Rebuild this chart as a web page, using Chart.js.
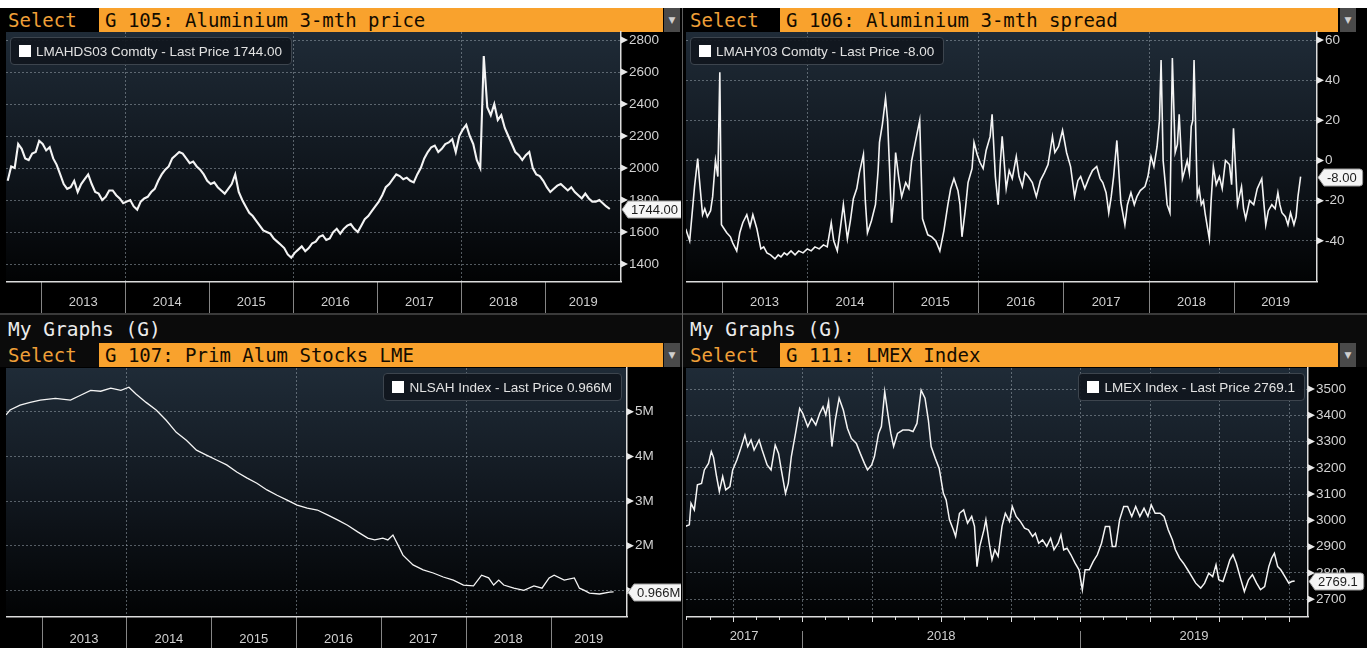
<!DOCTYPE html>
<html><head><meta charset="utf-8"><title>Aluminium dashboard</title>
<script src="https://cdn.jsdelivr.net/npm/chart.js@4.4.1/dist/chart.umd.min.js"></script>
<style>
*{box-sizing:border-box}
html,body{margin:0;padding:0;width:1367px;height:648px;background:#000;overflow:hidden}
#root{position:relative;width:1367px;height:648px;background:#000}
.a{position:absolute}
.sel{font-family:"DejaVu Sans Mono",monospace;font-size:19px;color:#f0a038;line-height:24px;height:24px}
.bar{height:24px;background:#f9a22d;color:#140c00;font-family:"DejaVu Sans Mono",monospace;font-size:19px;line-height:24px;padding-left:6px;white-space:nowrap}
.dd{height:24px;background:#4a4a4a;color:#cfcfcf;font-size:9px;line-height:24px;text-align:center;font-family:"DejaVu Sans",sans-serif}
.my{font-family:"DejaVu Sans Mono",monospace;font-size:19.5px;color:#ececec;line-height:24px}
.leg{height:28px;line-height:27px;padding:0 9px 0 8px;background:rgba(16,22,29,0.92);border:1px solid #3d454e;border-radius:4px;color:#e2e2e2;font-family:"Liberation Sans",Arial,sans-serif;font-size:13.5px;white-space:nowrap}
.sq{display:inline-block;width:12px;height:12px;background:#fff;margin-right:5px;vertical-align:-1px}
canvas{position:absolute;display:block}
</style></head>
<body><div id="root">
<div class="a" style="left:0;top:0;width:1367px;height:8px;background:#fff"></div>
<div class="a" style="left:0;top:313px;width:1367px;height:54px;background:#0b0b0b"></div>
<div class="a" style="left:0;top:313px;width:1367px;height:2px;background:#3a3a3a"></div>

<div class="a sel" style="left:8px;top:8px">Select</div>
<div class="a bar" style="left:99px;top:8px;width:564px">G 105: Aluminium 3-mth price</div>
<div class="a dd" style="left:664px;top:8px;width:16px">&#9660;</div>
<div class="a sel" style="left:690px;top:8px">Select</div>
<div class="a bar" style="left:780px;top:8px;width:558px">G 106: Aluminium 3-mth spread</div>
<div class="a dd" style="left:1340px;top:8px;width:16px">&#9660;</div>

<div class="a my" style="left:8px;top:318px">My Graphs (G)</div>
<div class="a sel" style="left:8px;top:343px">Select</div>
<div class="a bar" style="left:99px;top:343px;width:564px">G 107: Prim Alum Stocks LME</div>
<div class="a dd" style="left:664px;top:343px;width:16px">&#9660;</div>
<div class="a my" style="left:690px;top:318px">My Graphs (G)</div>
<div class="a sel" style="left:690px;top:343px">Select</div>
<div class="a bar" style="left:780px;top:343px;width:558px">G 111: LMEX Index</div>
<div class="a dd" style="left:1340px;top:343px;width:16px">&#9660;</div>

<canvas id="c1" width="681" height="282" style="left:0;top:31px"></canvas>
<canvas id="c2" width="683" height="282" style="left:684px;top:31px"></canvas>
<canvas id="c3" width="681" height="281" style="left:0;top:367px"></canvas>
<canvas id="c4" width="683" height="281" style="left:684px;top:367px"></canvas>

<div class="a" style="left:682px;top:8px;width:1px;height:640px;background:#5e5e5e"></div>

<div class="a leg" style="left:10px;top:37px"><span class="sq"></span>LMAHDS03 Comdty - Last Price 1744.00</div>
<div class="a leg" style="left:690px;top:37px"><span class="sq"></span>LMAHY03 Comdty - Last Price -8.00</div>
<div class="a leg" style="right:745px;top:373px"><span class="sq"></span>NLSAH Index - Last Price 0.966M</div>
<div class="a leg" style="right:62px;top:373px"><span class="sq"></span>LMEX Index - Last Price 2769.1</div>
</div>
<script>
// ---------- DATA ----------
// G 105: Aluminium 3-mth price (USD/t), semi-monthly readings from Aug 2012
const priceStart = 2012.6;
const priceStep = 1 / 24;
const priceValues = [
1920, 2010, 2000, 2150, 2120, 2060, 2050, 2090, 2100, 2170, 2150, 2110,
2130, 2060, 2020, 1960, 1900, 1870, 1880, 1920, 1850, 1900, 1930, 1960,
1900, 1850, 1840, 1800, 1820, 1860, 1860, 1830, 1810, 1780, 1790, 1800,
1760, 1740, 1790, 1810, 1820, 1850, 1870, 1920, 1960, 1990, 2010, 2060,
2080, 2100, 2090, 2060, 2030, 2040, 2010, 1990, 1960, 1920, 1900, 1910,
1880, 1860, 1840, 1870, 1900, 1960, 1850, 1800, 1760, 1720, 1700, 1670,
1640, 1610, 1600, 1590, 1560, 1540, 1520, 1500, 1460, 1440, 1470, 1490,
1510, 1480, 1500, 1530, 1540, 1570, 1580, 1550, 1560, 1600, 1620, 1590,
1620, 1640, 1650, 1620, 1600, 1640, 1680, 1700, 1730, 1760, 1790, 1830,
1880, 1900, 1930, 1960, 1950, 1930, 1940, 1920, 1910, 1960, 2000, 2060,
2100, 2130, 2140, 2100, 2120, 2150, 2160, 2180, 2100, 2200, 2240, 2270,
2200, 2150, 2050, 2000, 2700, 2380, 2330, 2400, 2300, 2330, 2250, 2200,
2150, 2100, 2080, 2050, 2080, 2100, 2000, 1960, 1950, 1920, 1880, 1850,
1870, 1890, 1900, 1880, 1860, 1880, 1850, 1830, 1810, 1840, 1810, 1790,
1790, 1800, 1780, 1760, 1744
];
const priceTicks = [1400, 1600, 1800, 2000, 2200, 2400, 2600, 2800];

// G 106: Aluminium 3-mth spread
const spreadTimes = [
2012.576, 2012.623, 2012.680, 2012.717, 2012.736, 2012.774, 2012.800, 2012.830, 2012.868, 2012.892,
2012.925, 2012.953, 2012.976, 2012.995, 2013.057, 2013.100, 2013.127, 2013.174, 2013.210, 2013.245,
2013.292, 2013.330, 2013.363, 2013.410, 2013.457, 2013.490, 2013.528, 2013.570, 2013.622, 2013.660,
2013.692, 2013.730, 2013.763, 2013.810, 2013.857, 2013.900, 2013.951, 2014.000, 2014.046, 2014.090,
2014.140, 2014.190, 2014.234, 2014.281, 2014.310, 2014.352, 2014.390, 2014.423, 2014.470, 2014.505,
2014.540, 2014.580, 2014.611, 2014.658, 2014.680, 2014.705, 2014.752, 2014.799, 2014.830, 2014.846,
2014.880, 2014.917, 2014.941, 2014.964, 2014.988, 2015.010, 2015.035, 2015.070, 2015.106, 2015.153,
2015.190, 2015.223, 2015.270, 2015.317, 2015.350, 2015.380, 2015.412, 2015.459, 2015.506, 2015.553,
2015.600, 2015.647, 2015.680, 2015.718, 2015.765, 2015.789, 2015.812, 2015.850, 2015.883, 2015.930,
2015.953, 2015.990, 2016.024, 2016.060, 2016.095, 2016.142, 2016.165, 2016.203, 2016.236, 2016.260,
2016.283, 2016.330, 2016.365, 2016.401, 2016.448, 2016.480, 2016.519, 2016.550, 2016.589, 2016.636,
2016.683, 2016.730, 2016.778, 2016.820, 2016.872, 2016.900, 2016.943, 2016.990, 2017.037, 2017.084,
2017.131, 2017.170, 2017.202, 2017.250, 2017.296, 2017.340, 2017.390, 2017.430, 2017.461, 2017.500,
2017.531, 2017.560, 2017.588, 2017.626, 2017.650, 2017.673, 2017.720, 2017.750, 2017.791, 2017.830,
2017.861, 2017.900, 2017.955, 2017.990, 2018.026, 2018.060, 2018.097, 2018.125, 2018.144, 2018.168,
2018.190, 2018.215, 2018.248, 2018.276, 2018.309, 2018.335, 2018.356, 2018.394, 2018.420, 2018.450,
2018.475, 2018.497, 2018.515, 2018.530, 2018.568, 2018.590, 2018.615, 2018.640, 2018.662, 2018.709,
2018.730, 2018.756, 2018.790, 2018.827, 2018.860, 2018.898, 2018.945, 2018.970, 2018.992, 2019.039,
2019.060, 2019.086, 2019.110, 2019.135, 2019.180, 2019.229, 2019.270, 2019.323, 2019.345, 2019.370,
2019.400, 2019.441, 2019.480, 2019.512, 2019.535, 2019.559, 2019.600, 2019.630, 2019.660, 2019.700,
2019.725, 2019.747, 2019.778
];
const spreadValues = [
-34, -40, -13, 1, -9, -27, -24, -28, -25, -18,
0, -8, 44, -32, -36, -38, -41, -45, -36, -31,
-27, -33, -27, -34, -44, -43, -46, -47, -49, -47,
-48, -46, -47, -45, -47, -45, -46, -44, -45, -43,
-44, -42, -43, -31, -40, -45, -33, -22, -39, -30,
-19, -14, -6, 3, -20, -36, -30, -22, -5, 9,
18, 31, 20, -4, -31, -20, 4, -8, -18, -11,
-14, 0, 10, 20, -29, -33, -37, -38, -40, -45,
-35, -22, -14, -9, -15, -22, -38, -25, -11, -4,
9, 3, -1, -4, 5, 12, 23, -8, -22, -2,
12, -14, -5, -9, 2, -8, -13, -6, -8, -11,
-18, -10, -6, -2, 12, 4, 7, 15, 4, -3,
-18, -10, -8, -14, -9, -5, -3, -9, -11, -16,
-26, -18, -8, 10, -6, -21, -32, -22, -16, -22,
-18, -15, -13, -8, 2, -3, 7, 20, 50, 0,
-10, -22, -26, 51, 4, 8, 23, -9, -5, 0,
-6, 17, 20, 50, -18, -14, -22, -20, -27, -39,
-20, -3, -12, -8, -14, 0, -2, -12, 16, -22,
-18, -13, -24, -29, -20, -22, -14, -9, -20, -32,
-25, -22, -24, -16, -22, -26, -28, -32, -26, -32,
-28, -18, -8
];
const spreadTicks = [-40, -20, 0, 20, 40, 60];

// G 107: Primary aluminium stocks LME (million t)
const stockTimes = [
2012.580, 2012.628, 2012.746, 2012.865, 2012.984, 2013.162, 2013.340, 2013.459, 2013.578, 2013.696,
2013.815, 2013.934, 2014.029, 2014.112, 2014.231, 2014.350, 2014.468, 2014.587, 2014.706, 2014.825,
2014.943, 2015.062, 2015.181, 2015.300, 2015.418, 2015.537, 2015.656, 2015.775, 2015.894, 2016.012,
2016.131, 2016.250, 2016.369, 2016.487, 2016.606, 2016.725, 2016.844, 2016.927, 2017.022, 2017.081,
2017.141, 2017.200, 2017.259, 2017.378, 2017.497, 2017.616, 2017.734, 2017.853, 2017.972, 2018.091,
2018.186, 2018.269, 2018.328, 2018.388, 2018.447, 2018.566, 2018.685, 2018.803, 2018.898, 2018.982,
2019.041, 2019.160, 2019.279, 2019.339, 2019.397, 2019.457, 2019.576, 2019.695, 2019.742
];
const stockValues = [
4.93, 5.04, 5.15, 5.21, 5.26, 5.30, 5.26, 5.37, 5.48, 5.46,
5.53, 5.48, 5.55, 5.40, 5.21, 5.04, 4.81, 4.54, 4.36, 4.14,
4.03, 3.92, 3.81, 3.65, 3.52, 3.40, 3.25, 3.13, 3.02, 2.91,
2.84, 2.80, 2.69, 2.58, 2.46, 2.31, 2.17, 2.13, 2.17, 2.13,
2.24, 2.02, 1.79, 1.57, 1.46, 1.39, 1.30, 1.23, 1.12, 1.10,
1.34, 1.28, 1.12, 1.23, 1.12, 1.05, 1.00, 1.10, 1.05, 1.28,
1.34, 1.23, 1.28, 1.05, 1.00, 0.94, 0.92, 0.96, 0.966
];
const stockTicks = [1, 2, 3, 4, 5];

// G 111: LMEX Index
const lmexTimes = [
2017.579, 2017.594, 2017.600, 2017.612, 2017.623, 2017.638, 2017.648, 2017.663, 2017.673, 2017.681,
2017.692, 2017.702, 2017.714, 2017.725, 2017.740, 2017.750, 2017.765, 2017.779, 2017.794, 2017.804,
2017.816, 2017.827, 2017.845, 2017.856, 2017.874, 2017.888, 2017.903, 2017.915, 2017.925, 2017.940,
2017.950, 2017.961, 2017.976, 2017.991, 2018.002, 2018.020, 2018.034, 2018.049, 2018.063, 2018.075,
2018.085, 2018.095, 2018.107, 2018.119, 2018.133, 2018.148, 2018.163, 2018.177, 2018.195, 2018.209,
2018.224, 2018.235, 2018.250, 2018.260, 2018.275, 2018.285, 2018.297, 2018.308, 2018.319, 2018.329,
2018.343, 2018.362, 2018.384, 2018.399, 2018.413, 2018.428, 2018.442, 2018.454, 2018.464, 2018.479,
2018.493, 2018.508, 2018.518, 2018.530, 2018.544, 2018.552, 2018.566, 2018.581, 2018.595, 2018.610,
2018.620, 2018.629, 2018.639, 2018.654, 2018.661, 2018.673, 2018.683, 2018.693, 2018.705, 2018.719,
2018.731, 2018.746, 2018.756, 2018.770, 2018.785, 2018.800, 2018.814, 2018.829, 2018.839, 2018.851,
2018.865, 2018.880, 2018.894, 2018.906, 2018.921, 2018.931, 2018.941, 2018.953, 2018.967, 2018.982,
2018.996, 2019.008, 2019.018, 2019.033, 2019.047, 2019.062, 2019.077, 2019.091, 2019.106, 2019.116,
2019.128, 2019.142, 2019.157, 2019.171, 2019.186, 2019.200, 2019.215, 2019.230, 2019.244, 2019.256,
2019.270, 2019.288, 2019.302, 2019.317, 2019.332, 2019.343, 2019.358, 2019.372, 2019.387, 2019.402,
2019.416, 2019.434, 2019.448, 2019.463, 2019.477, 2019.489, 2019.499, 2019.514, 2019.528, 2019.539,
2019.550, 2019.562, 2019.577, 2019.591, 2019.606, 2019.620, 2019.635, 2019.649, 2019.664, 2019.679,
2019.689, 2019.699, 2019.711, 2019.722, 2019.737, 2019.751, 2019.761, 2019.772
];
const lmexValues = [
2977, 2983, 3065, 3040, 3135, 3141, 3192, 3217, 3262, 3240,
3167, 3110, 3167, 3116, 3129, 3192, 3230, 3274, 3325, 3281,
3306, 3268, 3306, 3268, 3211, 3192, 3287, 3255, 3192, 3103,
3141, 3243, 3331, 3426, 3407, 3357, 3388, 3363, 3407, 3433,
3401, 3452, 3281, 3382, 3465, 3420, 3350, 3312, 3293, 3255,
3217, 3192, 3211, 3243, 3331, 3357, 3490, 3407, 3331, 3281,
3331, 3344, 3344, 3338, 3369, 3496, 3465, 3382, 3281, 3236,
3198, 3103, 3078, 3002, 2964, 2939, 3027, 3040, 2989, 3015,
2977, 2824, 2901, 2964, 3002, 2913, 2850, 2888, 2863, 2977,
3027, 2996, 3053, 3015, 2996, 2970, 2964, 2939, 2951, 2913,
2926, 2901, 2932, 2888, 2913, 2945, 2888, 2894, 2869, 2837,
2812, 2736, 2812, 2812, 2843, 2869, 2913, 2977, 2977, 2901,
2901, 3002, 3053, 3053, 3015, 3053, 3015, 3046, 3015, 3059,
3027, 3027, 3015, 2964, 2926, 2888, 2856, 2837, 2812, 2786,
2761, 2742, 2761, 2799, 2786, 2831, 2774, 2767, 2812, 2850,
2869, 2837, 2780, 2729, 2774, 2793, 2761, 2736, 2748, 2824,
2856, 2875, 2824, 2812, 2786, 2761, 2767, 2769.1
];
const lmexTicks = [2700, 2800, 2900, 3000, 3100, 3200, 3300, 3400, 3500];

const longYears = ['2013', '2014', '2015', '2016', '2017', '2018', '2019'];
const lmexYears = ['2017', '2018', '2019'];
const longGrid = [2014, 2016, 2018];
const lmexGrid = [2017.75, 2018, 2018.25, 2018.5, 2018.75, 2019, 2019.25, 2019.5, 2019.75];

// ---------- DRAWING ----------
const FONT = '"Liberation Sans", Arial, Helvetica, sans-serif';
Chart.defaults.font.family = FONT;
const GRID = 'rgba(150,160,170,0.55)';
const NONE = 'rgba(0,0,0,0)';
const AXIS = '#dcdcdc';
const SEP = '#858585';

function yearTicks(min, max, labels) {
  const t = [];
  labels.forEach(l => {
    const y = +l, a = Math.max(y, min), b = Math.min(y + 1, max);
    t.push({value: (a + b) / 2, yr: l});
  });
  return t;
}

function yScaleCfg(o) {
  return {
    type: 'linear', position: 'right', min: o.yMin, max: o.yMax,
    afterBuildTicks(s) {
      const m = o.yMajors, step = m[1] - m[0], out = [];
      m.forEach(v => { out.push({value: v, major: true}); out.push({value: +(v + step / 2).toFixed(6), major: false}); });
      out.push({value: +(m[0] - step / 2).toFixed(6), major: false});
      s.ticks = out.filter(t => t.value >= o.yMin && t.value <= o.yMax).sort((a, b) => a.value - b.value);
    },
    ticks: {autoSkip: false, padding: 3, color: '#d2d2d2', font: {size: 13.5},
      callback: (v, i, t) => (t[i] && t[i].major) ? o.fmt(v) : null},
    grid: {drawOnChartArea: true, drawTicks: true, tickLength: 5, lineWidth: 1, tickWidth: 1,
      color: c => (c.tick && c.tick.major) ? GRID : NONE, tickColor: AXIS},
    border: {display: true, color: AXIS, width: 1.5, dash: [2, 2]},
    afterFit(s) { s.width = o.yWidth; s.paddingTop = 0; s.paddingBottom = 0; }
  };
}

function xScaleCfg(o) {
  return {
    type: 'linear', position: 'bottom', min: o.xMin, max: o.xMax,
    afterBuildTicks(s) { s.ticks = yearTicks(o.xMin, o.xMax, o.years); },
    ticks: {autoSkip: false, maxRotation: 0, minRotation: 0, padding: o.labelPad, color: '#cfcfcf', font: {size: 13},
      callback: (v, i, t) => (t[i] && t[i].yr) ? t[i].yr : null},
    grid: {display: false, drawTicks: false, drawOnChartArea: false},
    border: {display: false},
    afterFit(s) { s.height = 32; s.paddingLeft = 0; s.paddingRight = 0; }
  };
}

function bgPlugin() {
  return {id: 'bgfill', beforeDraw(chart) {
    const {ctx, chartArea: a} = chart;
    const g = ctx.createLinearGradient(0, a.top, 0, a.bottom);
    g.addColorStop(0, '#1f2b37');
    g.addColorStop(0.55, '#10161d');
    g.addColorStop(1, '#020304');
    ctx.save(); ctx.fillStyle = g;
    ctx.fillRect(a.left, a.top, a.right - a.left, a.bottom - a.top);
    ctx.restore();
  }};
}

function xDecorPlugin(o) {
  return {
    id: 'xdecor',
    beforeDatasetsDraw(chart) {
      const xs = chart.scales.x, a = chart.chartArea, ctx = chart.ctx;
      ctx.save(); ctx.strokeStyle = GRID; ctx.lineWidth = 1; ctx.setLineDash([2, 2]);
      o.gridVals.forEach(v => {
        const px = Math.round(xs.getPixelForValue(v)) + 0.5;
        if (px < a.left || px > a.right) return;
        ctx.beginPath(); ctx.moveTo(px, a.top); ctx.lineTo(px, a.bottom); ctx.stroke();
      });
      ctx.restore();
    },
    afterDraw(chart) {
      const xs = chart.scales.x, a = chart.chartArea, ctx = chart.ctx;
      ctx.save();
      ctx.lineWidth = 1; ctx.strokeStyle = SEP;
      for (let y = Math.ceil(o.xMin); y <= o.xMax; y++) {
        const px = Math.round(xs.getPixelForValue(y)) + 0.5;
        ctx.beginPath(); ctx.moveTo(px, a.bottom + o.sepStart); ctx.lineTo(px, chart.height); ctx.stroke();
      }
      if (o.monthly) {
        ctx.strokeStyle = AXIS;
        for (let y = Math.floor(o.xMin); y <= Math.ceil(o.xMax); y++) {
          for (let m = 0; m < 12; m++) {
            const v = y + m / 12;
            if (v < o.xMin || v > o.xMax) continue;
            const px = Math.round(xs.getPixelForValue(v)) + 0.5;
            ctx.beginPath(); ctx.moveTo(px, a.bottom); ctx.lineTo(px, a.bottom + (m % 3 === 0 ? 6 : 4)); ctx.stroke();
          }
        }
      }
      ctx.strokeStyle = AXIS; ctx.lineWidth = 1.5;
      ctx.beginPath(); ctx.moveTo(a.left, a.bottom + 0.75); ctx.lineTo(a.right + 1, a.bottom + 0.75); ctx.stroke();
      ctx.restore();
    }
  };
}

function yDecorPlugin(o) {
  return {id: 'ydecor', afterDraw(chart) {
    const ys = chart.scales.y, ctx = chart.ctx;
    ctx.save();
    ctx.fillStyle = '#e8e8e8';
    o.yMajors.forEach(v => {
      const py = ys.getPixelForValue(v);
      if (py < ys.top - 0.5 || py > ys.bottom + 0.5) return;
      ctx.beginPath(); ctx.moveTo(ys.left, py - 3.5); ctx.lineTo(ys.left + 7, py); ctx.lineTo(ys.left, py + 3.5);
      ctx.closePath(); ctx.fill();
    });
    const last = o.values[o.values.length - 1];
    const py = Math.round(ys.getPixelForValue(last)) + 0.5;
    ctx.font = '13px ' + FONT;
    const w = ctx.measureText(o.lastText).width + 9;
    const x0 = ys.left + 1, h = 17, r = 3;
    ctx.beginPath();
    ctx.moveTo(x0, py);
    ctx.lineTo(x0 + 6, py - h / 2);
    ctx.lineTo(x0 + 6 + w - r, py - h / 2);
    ctx.quadraticCurveTo(x0 + 6 + w, py - h / 2, x0 + 6 + w, py - h / 2 + r);
    ctx.lineTo(x0 + 6 + w, py + h / 2 - r);
    ctx.quadraticCurveTo(x0 + 6 + w, py + h / 2, x0 + 6 + w - r, py + h / 2);
    ctx.lineTo(x0 + 6, py + h / 2);
    ctx.closePath();
    ctx.fillStyle = '#f5f5f5'; ctx.fill();
    ctx.strokeStyle = '#9a9a9a'; ctx.lineWidth = 1; ctx.stroke();
    ctx.fillStyle = '#1b1b1b'; ctx.textBaseline = 'middle'; ctx.textAlign = 'left';
    ctx.fillText(o.lastText, x0 + 9, py + 0.5);
    ctx.restore();
  }};
}

function makePanel(o) {
  const pts = o.times.map((t, i) => ({x: t, y: o.values[i]}));
  return new Chart(document.getElementById(o.id), {
    type: 'line',
    data: {datasets: [{data: pts, borderColor: '#f4f4f4', borderWidth: o.lw, pointRadius: 0, tension: 0, fill: false}]},
    options: {
      responsive: false, animation: false, events: [],
      layout: {padding: {left: o.padLeft, top: 1, right: 0, bottom: 0}},
      plugins: {legend: {display: false}, tooltip: {enabled: false}},
      scales: {x: xScaleCfg(o), y: yScaleCfg(o)}
    },
    plugins: [bgPlugin(), xDecorPlugin(o), yDecorPlugin(o)]
  });
}

makePanel({id: 'c1', times: priceValues.map((_, i) => priceStart + i * priceStep), values: priceValues,
  xMin: 2012.58, xMax: 2019.9, yMin: 1294, yMax: 2850, yMajors: priceTicks, fmt: v => String(v),
  yWidth: 60, padLeft: 6, years: longYears, gridVals: longGrid, labelPad: 14, sepStart: 0, lw: 2.1,
  lastText: priceValues[priceValues.length - 1].toFixed(2)});

makePanel({id: 'c2', times: spreadTimes, values: spreadValues,
  xMin: 2012.58, xMax: 2019.97, yMin: -60, yMax: 64, yMajors: spreadTicks, fmt: v => String(v),
  yWidth: 50, padLeft: 2, years: longYears, gridVals: longGrid, labelPad: 14, sepStart: 0, lw: 1.6,
  lastText: spreadValues[spreadValues.length - 1].toFixed(2)});

makePanel({id: 'c3', times: stockTimes, values: stockValues,
  xMin: 2012.58, xMax: 2019.9, yMin: 0.427, yMax: 5.98, yMajors: stockTicks, fmt: v => v + 'M',
  yWidth: 54, padLeft: 6, years: longYears, gridVals: longGrid, labelPad: 16, sepStart: 0, lw: 1.3,
  lastText: stockValues[stockValues.length - 1].toFixed(3) + 'M'});

makePanel({id: 'c4', times: lmexTimes, values: lmexValues, monthly: true,
  xMin: 2017.582, xMax: 2019.82, yMin: 2636, yMax: 3580, yMajors: lmexTicks, fmt: v => String(v),
  yWidth: 59, padLeft: 2, years: lmexYears, gridVals: lmexGrid, labelPad: 13, sepStart: 15, lw: 1.5,
  lastText: lmexValues[lmexValues.length - 1].toFixed(1)});
</script>
</body></html>
